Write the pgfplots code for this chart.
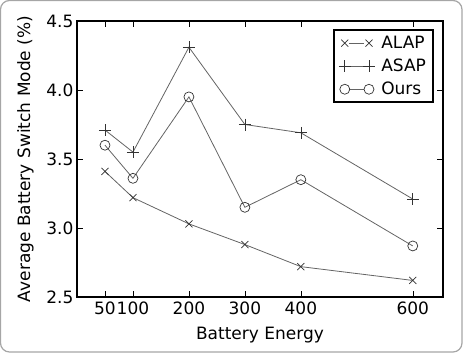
\documentclass[border=0pt]{standalone}
\usepackage{fontspec}
\setmainfont{DejaVu Sans}
\usepackage{pgfplots}
\pgfplotsset{compat=1.18}
\definecolor{linegray}{RGB}{100,100,100}
\begin{document}
\begin{tikzpicture}
\useasboundingbox (-77pt,-57pt) rectangle (390pt,297pt);
\draw[gray!70, line width=1.2pt, rounded corners=9pt] (-76.5pt,-55pt) rectangle (385pt,296.5pt);
\begin{axis}[
  at={(0pt,0pt)}, anchor=south west,
  scale only axis, width=366pt, height=276pt,
  xmin=0, xmax=654, ymin=2.5, ymax=4.5,
  xtick={50,100,200,300,400,600},
  ytick={2.5,3.0,3.5,4.0,4.5},
  yticklabel style={/pgf/number format/fixed, /pgf/number format/fixed zerofill, /pgf/number format/precision=1},
  /pgf/number format/assume math mode=true,
  tick align=inside, tick pos=both,
  major tick length=6pt,
  tick style={black, line width=0.5pt},
  axis line style={black, line width=1.8pt},
  ticklabel style={font=\fontsize{17}{20}\selectfont},
  xticklabel style={yshift=-1pt},
  label style={font=\fontsize{17}{20}\selectfont},
  xlabel={Battery Energy},
  ylabel={Average Battery Switch Mode (\%)},
  xlabel style={yshift=-6pt},
  ylabel style={yshift=6pt},
  legend style={at={(0.975,0.97)}, anchor=north east, draw=black, line width=1.8pt,
    font=\fontsize{17}{20}\selectfont, row sep=5pt, inner xsep=5pt, inner ysep=4pt},
  legend cell align=left,
  legend image code/.code={
    \draw[#1, line width=0.8pt, mark=none, shorten <=4.5pt, shorten >=4.5pt] (0cm,0cm) -- (0.85cm,0cm);
    \draw[#1, line width=0.8pt, only marks] plot coordinates {(0cm,0cm) (0.85cm,0cm)};
    \path (1.2cm,0cm);},
]
\addplot[linegray, line width=0.8pt, mark=x, mark size=5pt, mark options={black!80, line width=0.7pt}]
  coordinates {(50,3.41) (100,3.22) (200,3.03) (300,2.88) (400,2.72) (600,2.62)};
\addlegendentry{ALAP}
\addplot[linegray, line width=0.8pt, mark=+, mark size=6pt, mark options={black!80, line width=0.7pt}]
  coordinates {(50,3.71) (100,3.55) (200,4.31) (300,3.75) (400,3.69) (600,3.21)};
\addlegendentry{ASAP}
\addplot[linegray, line width=0.8pt, mark=o, mark size=5pt, mark options={black!80, fill=white, line width=0.7pt}]
  coordinates {(50,3.60) (100,3.36) (200,3.95) (300,3.15) (400,3.35) (600,2.87)};
\addlegendentry{Ours}
\end{axis}
\end{tikzpicture}
\end{document}
